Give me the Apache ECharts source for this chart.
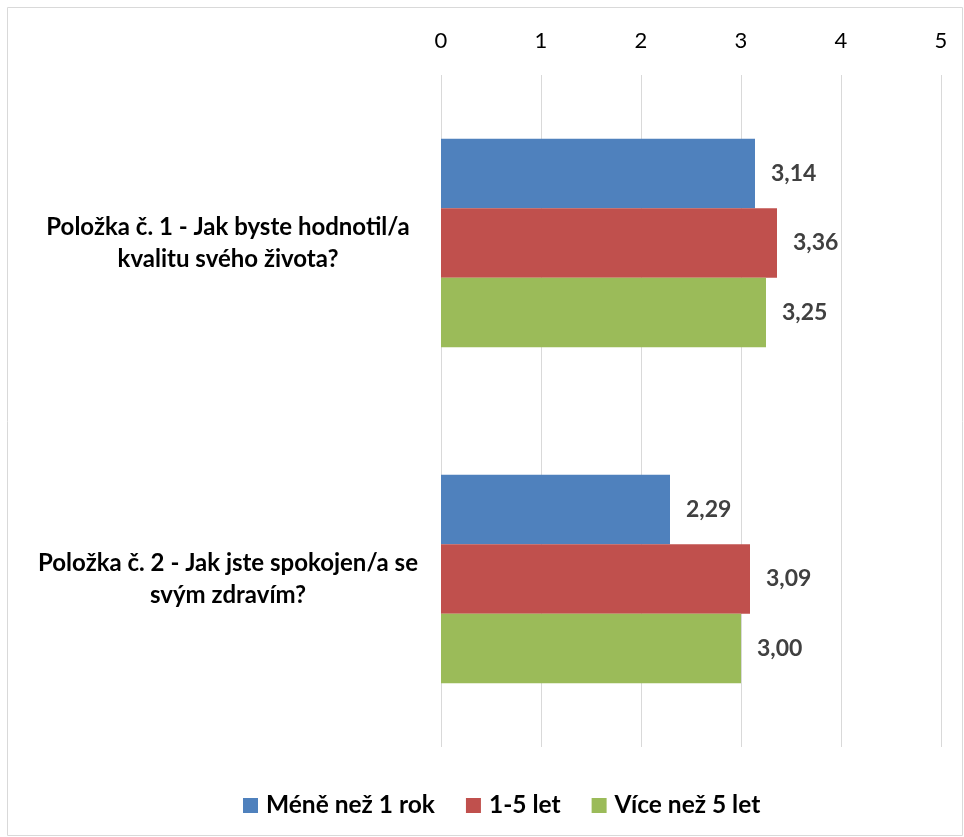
<!DOCTYPE html>
<html>
<head>
<meta charset="utf-8">
<script src="https://cdn.jsdelivr.net/npm/echarts@6/dist/echarts.min.js"></script>
<style>
html,body{margin:0;padding:0;background:#fff;}
#chart{width:964px;height:837px;}
</style>
</head>
<body>
<div id="chart"></div>
<script>
var categories = ['Položka č. 1 - Jak byste hodnotil/a\nkvalitu svého života?', 'Položka č. 2 - Jak jste spokojen/a se\nsvým zdravím?'];
var seriesNames = ['Méně než 1 rok', '1-5 let', 'Více než 5 let'];
var valuesLess1 = [3.14, 2.29];
var values1to5 = [3.36, 3.09];
var valuesMore5 = [3.25, 3.00];
var axisTicks = [0, 1, 2, 3, 4, 5];

var colors = ['#4f81bd', '#c0504d', '#9bbb59'];
var fontFam = 'Lato, "Open Sans", sans-serif';

var chart = echarts.init(document.getElementById('chart'));
function fmt(p){ return p.value.toFixed(2).replace('.', ','); }
var allValues = [valuesLess1, values1to5, valuesMore5];
var series = seriesNames.map(function(n, i){
  return {
    name: n,
    type: 'bar',
    data: allValues[i],
    barGap: '0%',
    barCategoryGap: '38%',
    itemStyle: {color: colors[i]},
    label: {
      show: true, position: 'right', distance: 16, formatter: fmt,
      color: '#404040', fontWeight: 'bold', fontSize: 23, fontFamily: fontFam
    }
  };
});
chart.setOption({
  animation: false,
  graphic: [{type: 'rect', shape: {x: 7.5, y: 7.5, width: 955, height: 828},
    style: {fill: 'none', stroke: '#d9d9d9', lineWidth: 1}, z: -10}],
  grid: {left: 441, right: 23, top: 75, bottom: 90, containLabel: false},
  legend: {
    top: 788, left: 238, itemWidth: 15, itemHeight: 15, itemGap: 31,
    icon: 'rect',
    textStyle: {fontSize: 24.5, fontWeight: 'bold', color: '#000', fontFamily: fontFam, padding: [0, 0, 0, 3]},
    data: seriesNames
  },
  xAxis: {
    type: 'value', position: 'top', min: axisTicks[0], max: axisTicks[axisTicks.length-1], interval: 1,
    axisLine: {show: false}, axisTick: {show: false},
    splitLine: {lineStyle: {color: '#d9d9d9', width: 1}},
    axisLabel: {fontSize: 22, color: '#000', margin: 23, fontFamily: fontFam}
  },
  yAxis: {
    type: 'category', inverse: true, data: categories,
    axisLine: {show: false}, axisTick: {show: false},
    axisLabel: {fontSize: 24, fontWeight: 'bold', color: '#000', align: 'center', margin: 213,
      lineHeight: 32, fontFamily: fontFam}
  },
  series: series
});
</script>
</body>
</html>
